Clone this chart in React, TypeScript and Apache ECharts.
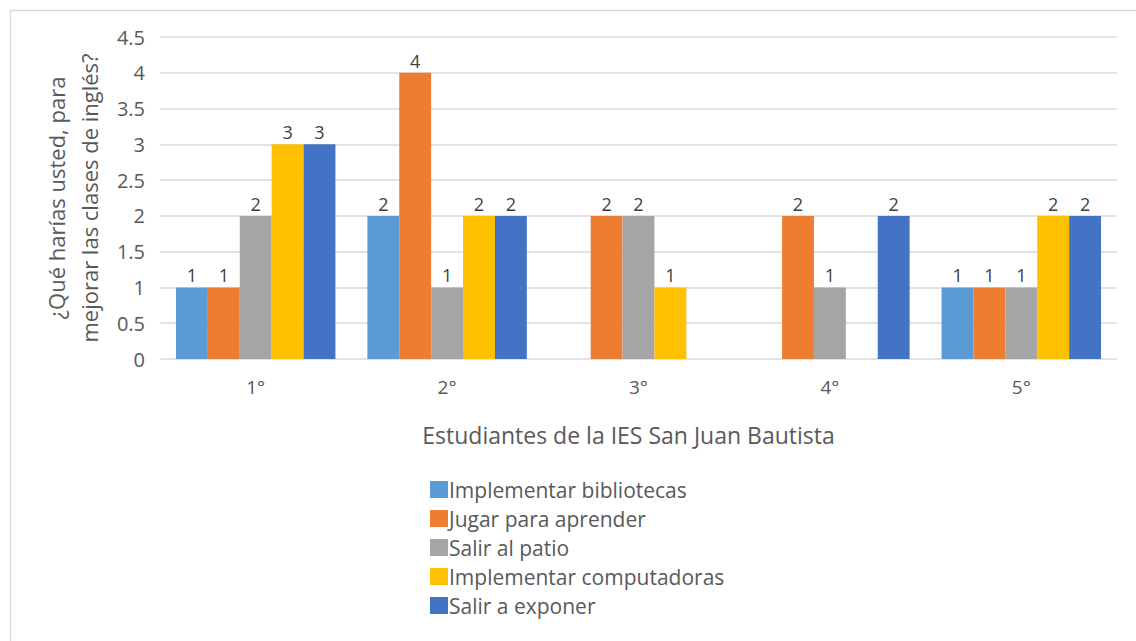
import React, { useEffect, useRef } from "react";
import * as echarts from "echarts";

const categories = ["1°", "2°", "3°", "4°", "5°"];
const seriesNames = [
  "Implementar bibliotecas",
  "Jugar para aprender",
  "Salir al patio",
  "Implementar computadoras",
  "Salir a exponer",
];
const bibliotecas = [1, 2, 0, 0, 1];
const jugar = [1, 4, 2, 2, 1];
const patio = [2, 1, 2, 1, 1];
const computadoras = [3, 2, 1, 0, 2];
const exponer = [3, 2, 0, 2, 2];
const seriesValues = [bibliotecas, jugar, patio, computadoras, exponer];
const colors = ["#5B9BD5", "#ED7D31", "#A5A5A5", "#FFC000", "#4472C4"];

const FONT = "Open Sans";

export default function App() {
  const ref = useRef<HTMLDivElement>(null);
  useEffect(() => {
    document.body.style.margin = "0";
    const chart = echarts.init(ref.current!, undefined, { renderer: "svg" });
    chart.setOption({
      animation: false,
      backgroundColor: "#ffffff",
      textStyle: { fontFamily: FONT },
      graphic: [
        {
          type: "rect",
          shape: { x: 10.5, y: 10.5, width: 1200, height: 700 },
          style: { fill: "none", stroke: "#d9d9d9", lineWidth: 1.5 },
          silent: true,
        },
      ],
      grid: { left: 160, right: 19, top: 37, bottom: 282, containLabel: false },
      legend: {
        orient: "vertical",
        left: 425,
        top: 474,
        icon: "rect",
        itemWidth: 18,
        itemHeight: 17,
        itemGap: 8,
        data: seriesNames,
        textStyle: {
          fontFamily: FONT,
          fontSize: 21,
          lineHeight: 17,
          color: "#595959",
          padding: [0, 0, 0, -4],
        },
      },
      xAxis: {
        type: "category",
        data: categories,
        name: "Estudiantes de la IES San Juan Bautista",
        nameLocation: "middle",
        nameGap: 64,
        nameTextStyle: { fontFamily: FONT, fontSize: 23, color: "#595959", padding: [0, 20, 0, 0] },
        axisLine: { show: false },
        axisTick: { show: false },
        axisLabel: { margin: 18, fontFamily: FONT, fontSize: 19, color: "#595959" },
      },
      yAxis: {
        type: "value",
        min: 0,
        max: 4.5,
        interval: 0.5,
        name: "¿Qué harías usted, para\nmejorar las clases de inglés?",
        nameLocation: "middle",
        nameGap: 54,
        nameRotate: 90,
        nameTextStyle: { fontFamily: FONT, fontSize: 22, color: "#595959", lineHeight: 33 },
        axisLine: { show: false },
        axisTick: { show: false },
        axisLabel: { margin: 15, fontFamily: FONT, fontSize: 20, color: "#595959" },
        splitLine: { lineStyle: { color: "#d9d9d9", width: 1.5 } },
      },
      series: seriesNames.map((name, i) => ({
        name,
        type: "bar",
        data: seriesValues[i],
        barGap: "0%",
        barCategoryGap: "16.7%",
        itemStyle: { color: colors[i] },
        label: {
          show: true,
          position: "top",
          distance: 3,
          fontFamily: FONT,
          fontSize: 18,
          color: "#404040",
          formatter: (p: any) => (p.value === 0 ? "" : String(p.value)),
        },
      })),
    });
    return () => chart.dispose();
  }, []);
  return <div ref={ref} style={{ width: 1136, height: 641 }} />;
}
